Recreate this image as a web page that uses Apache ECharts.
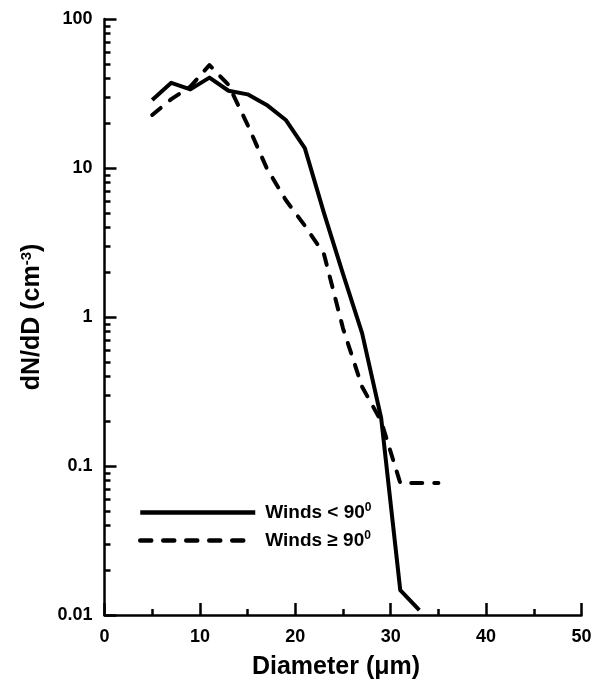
<!DOCTYPE html>
<html>
<head>
<meta charset="utf-8">
<script src="https://cdn.jsdelivr.net/npm/echarts@6/dist/echarts.min.js"></script>
<style>
html,body{margin:0;padding:0;background:#fff;}
#chart{width:600px;height:681px;}
</style>
</head>
<body>
<div id="chart"></div>
<script>
// Data
const diamLow  = [5, 7, 9, 11, 13, 15, 17, 19, 21, 23, 25, 27, 29, 31, 33];
const windsLow = [28.6, 37.3, 33.7, 40.4, 33.0, 31.2, 26.5, 21.0, 13.6, 5.0, 1.95, 0.78, 0.21, 0.0147, 0.0108];
const diamHigh  = [5, 7, 9, 11, 13, 15, 17, 19, 21, 23, 25, 27, 29, 31, 33, 35];
const windsHigh = [22.7, 29.0, 35.2, 49.1, 36.1, 19.5, 10.0, 6.1, 4.1, 2.65, 0.84, 0.34, 0.20, 0.077, 0.077, 0.077];
const seriesNames = ['Winds < 90', 'Winds \u2265 90'];
const yMinorTicks = [0.02,0.03,0.04,0.05,0.06,0.07,0.08,0.09,
                     0.2,0.3,0.4,0.5,0.6,0.7,0.8,0.9,
                     2,3,4,5,6,7,8,9,
                     20,30,40,50,60,70,80,90];

const FONT = '"Liberation Sans", Arial, sans-serif';
const toPairs = (xs, ys) => xs.map((x, i) => [x, ys[i]]);

const chart = echarts.init(document.getElementById('chart'), null, {renderer: 'canvas'});
chart.setOption({
  animation: false,
  backgroundColor: '#fff',
  textStyle: {fontFamily: FONT},
  grid: {left: 104.5, right: 18.5, top: 19, bottom: 66, containLabel: false, outerBoundsMode: 'none'},
  legend: {
    left: 138, top: 502, orient: 'vertical', padding: 0,
    itemWidth: 115, itemHeight: 20, itemGap: 8,
    data: seriesNames,
    itemStyle: {opacity: 0},
    lineStyle: {width: 4.5},
    formatter: name => name === seriesNames[0] ? '{t|Winds < 90}{s|0}' : '{t|Winds \u2265 90}{s|0}',
    textStyle: {
      padding: [0, 0, 0, 5],
      rich: {
        t: {fontFamily: FONT, fontSize: 19, fontWeight: 'bold', color: '#000', lineHeight: 20},
        s: {fontFamily: FONT, fontSize: 12, fontWeight: 'bold', color: '#000', padding: [0, 0, 9, 0]}
      }
    }
  },
  xAxis: {
    type: 'value', min: 0, max: 50, interval: 10,
    name: 'Diameter (\u03bcm)', nameLocation: 'middle', nameGap: 40,
    nameTextStyle: {fontFamily: FONT, fontSize: 25, fontWeight: 'bold', color: '#000', padding: [0, 14, 0, 0]},
    axisLine: {lineStyle: {color: '#000', width: 2.5}},
    axisTick: {inside: true, length: 12, lineStyle: {color: '#000', width: 2.5}},
    minorTick: {show: true, splitNumber: 2, length: 6, lineStyle: {color: '#000', width: 2.5}},
    axisLabel: {fontFamily: FONT, fontSize: 18, fontWeight: 'bold', color: '#000', margin: 13},
    splitLine: {show: false}
  },
  yAxis: [{
    type: 'log', logBase: 10, min: 0.01, max: 100,
    name: '{t|dN/dD (cm}{s|-3}{t|)}', nameLocation: 'middle', nameGap: 59,
    nameTextStyle: {
      rich: {
        t: {fontFamily: FONT, fontSize: 25, fontWeight: 'bold', color: '#000'},
        s: {fontFamily: FONT, fontSize: 15, fontWeight: 'bold', color: '#000', padding: [0, 0, 11, 0]}
      }
    },
    axisLine: {lineStyle: {color: '#000', width: 2.5}},
    axisTick: {inside: true, length: 12, lineStyle: {color: '#000', width: 2.5}},
    axisLabel: {fontFamily: FONT, fontSize: 18, fontWeight: 'bold', color: '#000', margin: 12},
    splitLine: {show: false}
  }, {
    type: 'log', logBase: 10, min: 0.01, max: 100, position: 'left',
    axisLine: {show: false},
    axisLabel: {show: false},
    axisTick: {inside: true, length: 6, customValues: yMinorTicks, lineStyle: {color: '#000', width: 2.5}},
    splitLine: {show: false}
  }],
  series: [{
    name: seriesNames[0], type: 'line', yAxisIndex: 0,
    data: toPairs(diamLow, windsLow),
    symbol: 'none', silent: true,
    lineStyle: {color: '#000', width: 4, join: 'round'},
    itemStyle: {color: '#000'}
  }, {
    name: seriesNames[1], type: 'line', yAxisIndex: 0,
    data: toPairs(diamHigh, windsHigh),
    symbol: 'none', silent: true,
    lineStyle: {color: '#000', width: 4, type: [11, 12], cap: 'round', join: 'round'},
    itemStyle: {color: '#000'}
  }]
});
</script>
</body>
</html>
